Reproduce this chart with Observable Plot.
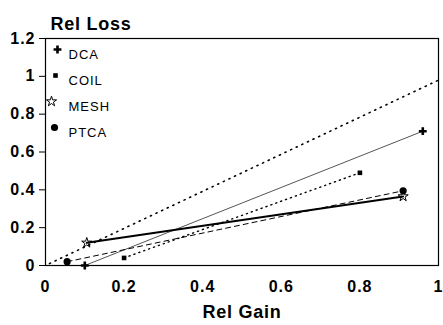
<!DOCTYPE html>
<html>
<head>
<meta charset="utf-8">
<script src="https://cdn.jsdelivr.net/npm/d3@7"></script>
<script src="https://cdn.jsdelivr.net/npm/@observablehq/plot@0.6"></script>
<style>
  html, body { margin: 0; padding: 0; background: #fff; }
  #chart svg { display: block; }
  #chart svg g[aria-label="y-axis tick label"],
  #chart svg g[aria-label="x-axis tick label"] { font-size: 16px; font-weight: bold; letter-spacing: 1px; }
</style>
</head>
<body>
<div id="chart"></div>
<script>
// ---- data ----
const seriesNames = ["DCA", "COIL", "MESH", "PTCA"];
const dcaGain  = [0.10, 0.96];
const dcaLoss  = [0.00, 0.71];
const coilGain = [0.20, 0.80];
const coilLoss = [0.04, 0.49];
const meshGain = [0.105, 0.91];
const meshLoss = [0.12, 0.365];
const ptcaGain = [0.055, 0.91];
const ptcaLoss = [0.02, 0.395];
const refGain  = [0.01, 1.0];   // dotted identity reference
const refLoss  = [0.01, 0.98];
const xTicks = [0, 0.2, 0.4, 0.6, 0.8, 1];
const yTicks = [0, 0.2, 0.4, 0.6, 0.8, 1, 1.2];
const xTickLabels = ["0", "0.2", "0.4", "0.6", "0.8", "1"];
const yTickLabels = ["0", "0.2", "0.4", "0.6", "0.8", "1", "1.2"];

const toRows = (name, gx, ly) => gx.map((g, i) => ({series: name, gain: g, loss: ly[i]}));
const dca  = toRows("DCA",  dcaGain,  dcaLoss);
const coil = toRows("COIL", coilGain, coilLoss);
const mesh = toRows("MESH", meshGain, meshLoss);
const ptca = toRows("PTCA", ptcaGain, ptcaLoss);
const ref  = toRows("ref",  refGain,  refLoss);

const styles = {
  DCA:  {line: {stroke: "#555", strokeWidth: 1}, sym: {symbol: "cross", r: 3.3, fill: "#000"}},
  COIL: {line: {stroke: "#000", strokeWidth: 1.4, strokeDasharray: "1.2,4", strokeLinecap: "round"}, sym: {symbol: "square", r: 2.6, fill: "#000"}},
  MESH: {line: {stroke: "#000", strokeWidth: 2}, sym: {symbol: "star", r: 3.2, fill: "none", stroke: "#000", strokeWidth: 1}},
  PTCA: {line: {stroke: "#000", strokeWidth: 1, strokeDasharray: "5,4"}, sym: {symbol: "circle", r: 3.6, fill: "#000"}}
};
const dataBy = {DCA: dca, COIL: coil, MESH: mesh, PTCA: ptca};

const font = "'Liberation Sans', Arial, Helvetica, sans-serif";

const marks = [
  Plot.frame({stroke: "#000", strokeWidth: 1.2}),
  Plot.line(ref, {x: "gain", y: "loss", stroke: "#000", strokeWidth: 1.6, strokeDasharray: "1.2,5", strokeLinecap: "round"}),
];
for (const s of seriesNames) {
  marks.push(Plot.line(dataBy[s], {x: "gain", y: "loss", ...styles[s].line}));
}
for (const s of seriesNames) {
  marks.push(Plot.dot(dataBy[s], {x: "gain", y: "loss", ...styles[s].sym}));
}
// legend inside the plot, top-left
const legendDx = [12, 10, 6, 9];
seriesNames.forEach((s, i) => {
  const dy = 11 + i * 26;
  marks.push(Plot.dot([s], {frameAnchor: "top-left", dx: legendDx[i], dy, ...styles[s].sym}));
  marks.push(Plot.text([s], {text: d => d, frameAnchor: "top-left", dx: 23, dy, textAnchor: "start", fontSize: 13, fill: "#000", fontFamily: font}));
});
// axis titles
marks.push(Plot.text(["Rel Loss"], {text: d => d, frameAnchor: "top-left", dx: 5, dy: -21, textAnchor: "start", fontSize: 18, fontWeight: "bold", fontFamily: font}));
marks.push(Plot.text(["Rel Gain"], {text: d => d, frameAnchor: "bottom", dy: 52, fontSize: 18, fontWeight: "bold", fontFamily: font}));
marks.push(Plot.axisY(yTicks, {tickFormat: (d, i) => yTickLabels[i], tickSize: 6, tickPadding: 4, label: null}));
marks.push(Plot.axisX(xTicks, {tickFormat: (d, i) => xTickLabels[i], tickSize: 0, tickPadding: 15, label: null}));

const chart = Plot.plot({
  width: 443,
  height: 325,
  marginLeft: 45,
  marginRight: 5,
  marginTop: 38,
  marginBottom: 60,
  x: {domain: [0, 1]},
  y: {domain: [0, 1.2]},
  style: {fontFamily: font, color: "#000", background: "#fff", overflow: "visible"},
  marks
});
// letter spacing for the titles and legend
chart.querySelectorAll("text").forEach(t => {
  if (t.textContent === "Rel Loss" || t.textContent === "Rel Gain") t.style.letterSpacing = "0.75px";
  if (seriesNames.includes(t.textContent)) t.style.letterSpacing = "1px";
});
document.getElementById("chart").appendChild(chart);
</script>
</body>
</html>
